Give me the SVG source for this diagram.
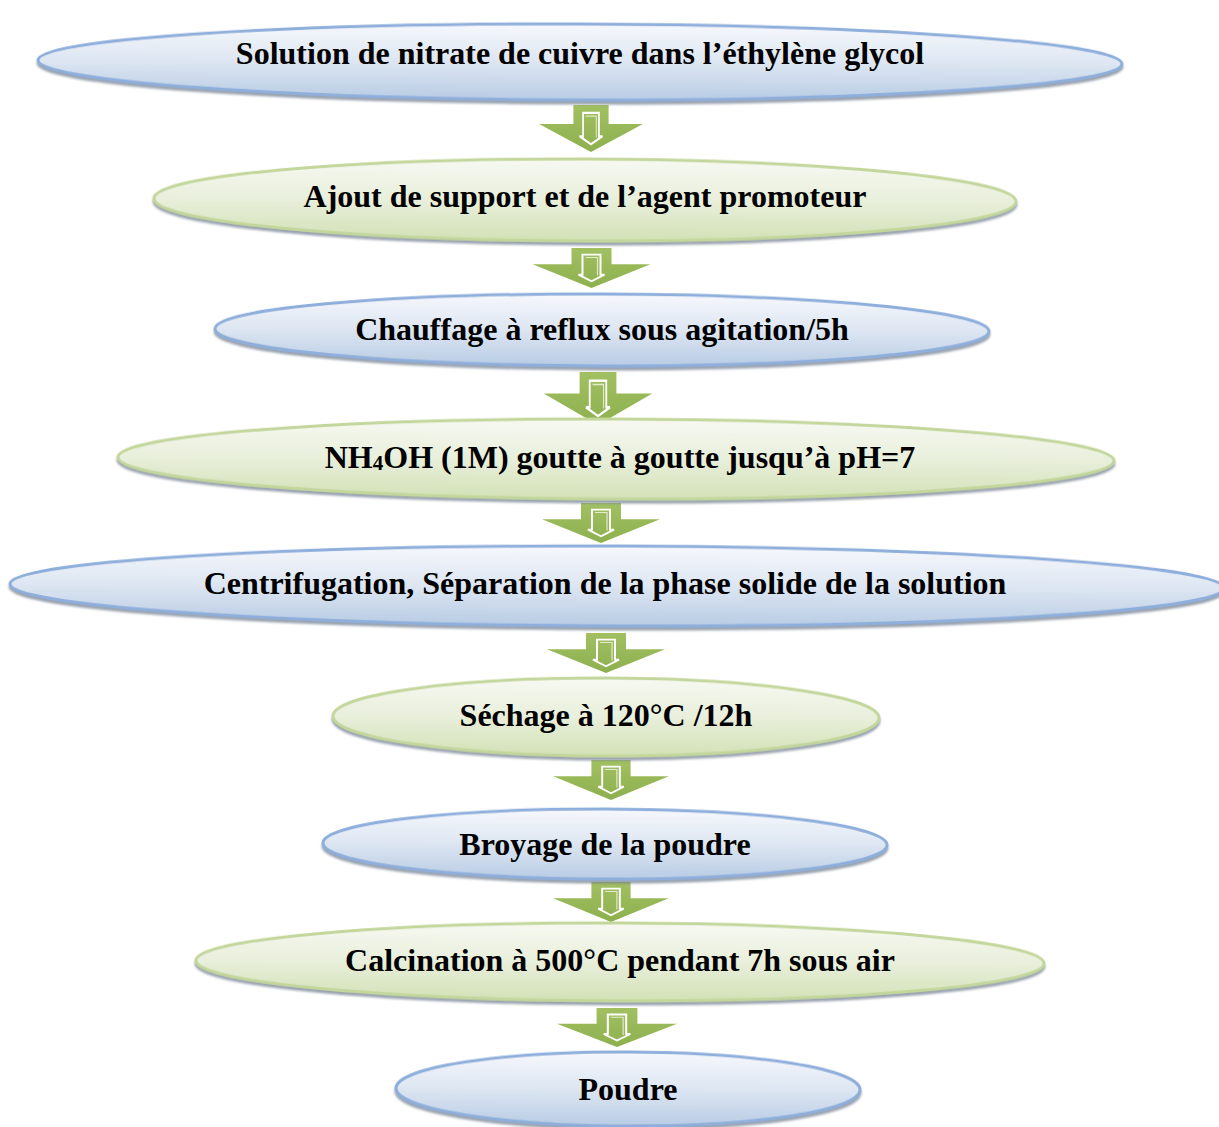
<svg xmlns="http://www.w3.org/2000/svg" width="1219" height="1127" viewBox="0 0 1219 1127">
<style>
.bl{fill:url(#gb);stroke:#8eaedb;stroke-width:3}
.gr{fill:url(#gg);stroke:#c3d69b;stroke-width:3}
.sh{filter:url(#ds)}
text{font-family:"Liberation Serif","Times New Roman",serif;font-weight:bold;font-size:32px;text-anchor:middle;fill:#000}
.arr{fill:url(#ga)}
.inn{fill:none;stroke:#fff;stroke-width:2}
</style>
<defs>
<linearGradient id="gb" x1="0" y1="0" x2="0" y2="1">
<stop offset="0" stop-color="#f6f8fc"/>
<stop offset="0.5" stop-color="#dde6f2"/>
<stop offset="1" stop-color="#b8cce4"/>
</linearGradient>
<linearGradient id="gg" x1="0" y1="0" x2="0" y2="1">
<stop offset="0" stop-color="#f7f9f2"/>
<stop offset="0.5" stop-color="#e8efdb"/>
<stop offset="1" stop-color="#d3e1b6"/>
</linearGradient>
<linearGradient id="ga" x1="0" y1="0" x2="0" y2="1">
<stop offset="0" stop-color="#a2c062"/>
<stop offset="1" stop-color="#8db04e"/>
</linearGradient>
<filter id="ds" x="-5%" y="-20%" width="110%" height="150%">
<feDropShadow dx="0" dy="3" stdDeviation="1.2" flood-color="#6d7a8c" flood-opacity="0.7"/>
</filter>
<g id="arrow">
<path class="arr" d="M-20,0 H20 V17 H59 L0,42 L-59,17 H-20 Z"/>
<path class="inn" d="M-9,7 H9 V28 H13 L0,35 L-13,28 H-9 Z"/>
<path fill="none" stroke="#fff" stroke-width="1.2" opacity="0.7" d="M-6,10 H6 V29"/>
</g>
</defs>

<g id="connectors">
<use href="#arrow" transform="translate(591,105) scale(0.88,1.12)"/>
<use href="#arrow" transform="translate(591.5,248) scale(1,0.95)"/>
<use href="#arrow" transform="translate(598,372) scale(0.92,1.26)"/>
<use href="#arrow" transform="translate(601,503) scale(1,0.95)"/>
<use href="#arrow" transform="translate(606,633) scale(1,0.95)"/>
<use href="#arrow" transform="translate(611,760) scale(0.98,0.95)"/>
<use href="#arrow" transform="translate(611,882) scale(0.98,0.95)"/>
<use href="#arrow" transform="translate(617,1008) scale(1.02,0.93)"/>
</g>

<g id="n1">
<ellipse class="bl sh" cx="580" cy="62" rx="542" ry="38" transform="rotate(0.2 580 62)"/>
<text x="580" y="64">Solution de nitrate de cuivre dans l’éthylène glycol</text>
</g>
<g id="n2">
<ellipse class="gr sh" cx="585" cy="200" rx="431" ry="41" transform="rotate(0.2 585 200)"/>
<text x="585" y="207">Ajout de support et de l’agent promoteur</text>
</g>
<g id="n3">
<ellipse class="bl sh" cx="602" cy="330" rx="387" ry="36" transform="rotate(0.2 602 330)"/>
<text x="602" y="340">Chauffage à reflux sous agitation/5h</text>
</g>
<g id="n4">
<ellipse class="gr sh" cx="616" cy="459" rx="498" ry="40" transform="rotate(0.2 616 459)"/>
<text x="620" y="468">NH<tspan font-size="21" dy="2">4</tspan><tspan dy="-2">OH (1M) goutte à goutte jusqu’à pH=7</tspan></text>
</g>
<g id="n5">
<ellipse class="bl sh" cx="617" cy="586" rx="607" ry="40" transform="rotate(0.2 617 586)"/>
<text x="605" y="594">Centrifugation, Séparation de la phase solide de la solution</text>
</g>
<g id="n6">
<ellipse class="gr sh" cx="606" cy="717" rx="273" ry="39" transform="rotate(0.2 606 717)"/>
<text x="606" y="726">Séchage à 120°C /12h</text>
</g>
<g id="n7">
<ellipse class="bl sh" cx="605" cy="844" rx="282" ry="35" transform="rotate(0.2 605 844)"/>
<text x="605" y="855">Broyage de la poudre</text>
</g>
<g id="n8">
<ellipse class="gr sh" cx="620" cy="962" rx="424" ry="39" transform="rotate(0.2 620 962)"/>
<text x="620" y="971">Calcination à 500°C pendant 7h sous air</text>
</g>
<g id="n9">
<ellipse class="bl sh" cx="628" cy="1089" rx="232" ry="37" transform="rotate(0.2 628 1089)"/>
<text x="628" y="1100">Poudre</text>
</g>
</svg>
